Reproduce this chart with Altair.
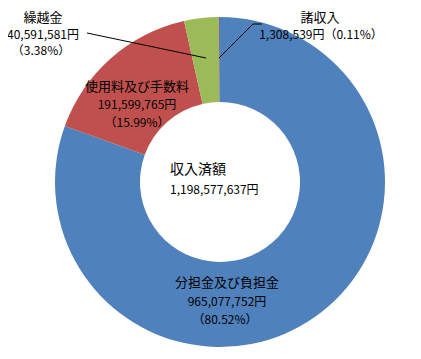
import altair as alt
import pandas as pd

categories = ["分担金及び負担金", "使用料及び手数料", "繰越金", "諸収入"]
amounts = [965077752, 191599765, 40591581, 1308539]
percents = ["80.52%", "15.99%", "3.38%", "0.11%"]
colors = ["#4F81BD", "#C0504D", "#9BBB59", "#8064A2"]
total_title = "収入済額"
total_amount = 1198577637

df = pd.DataFrame({"category": categories, "amount": amounts, "idx": list(range(len(categories)))})

W, H = 405, 343
CX, CY = 212, 174
FONT = "Noto Sans CJK JP"

arcs = alt.Chart(df).mark_arc(outerRadius=165, innerRadius=80).encode(
    theta=alt.Theta("amount:Q", stack=True),
    order=alt.Order("idx:Q"),
    color=alt.Color("category:N", scale=alt.Scale(domain=categories, range=colors), legend=None),
    x=alt.value(CX), y=alt.value(CY),
)

def fmt(v):
    return f"{v:,}円"

def text_line(s, x, y, align="center", size=12):
    return alt.Chart(pd.DataFrame({"t": [s]})).mark_text(
        font=FONT, fontSize=size, align=align, baseline="middle", color="#000000"
    ).encode(text="t:N", x=alt.value(x), y=alt.value(y))

def rule(x1, y1, x2, y2):
    return alt.Chart(pd.DataFrame({"a": [0]})).mark_rule(color="#000000", strokeWidth=1).encode(
        x=alt.value(x1), y=alt.value(y1), x2=alt.value(x2), y2=alt.value(y2)
    )

o = 8
layers = [arcs]
# 繰越金
layers += [
    text_line(categories[2], 43 - o, 18 - o, size=13),
    text_line(fmt(amounts[2]), 43 - o, 35 - o),
    text_line(f"（{percents[2]}）", 41 - o, 51 - o),
    rule(87 - o, 33 - o, 206 - o, 58 - o),
]
# 使用料及び手数料
layers += [
    text_line(categories[1], 137 - o, 87 - o, size=13),
    text_line(fmt(amounts[1]), 137 - o, 105 - o),
    text_line(f"（{percents[1]}）", 137 - o, 123 - o),
]
# 諸収入
layers += [
    text_line(categories[3], 320 - o, 18 - o, size=13),
    text_line(fmt(amounts[3]) + f"（{percents[3]}）", 321 - o, 35 - o),
    rule(253 - o, 24 - o, 262 - o, 24 - o),
    rule(253 - o, 24 - o, 219 - o, 58 - o),
]
# 分担金及び負担金
layers += [
    text_line(categories[0], 227 - o, 283 - o, size=13),
    text_line(fmt(amounts[0]), 227 - o, 302 - o),
    text_line(f"（{percents[0]}）", 225 - o, 320 - o),
]
# center
layers += [
    text_line(total_title, 170 - o, 170 - o, align="left", size=14),
    text_line(fmt(total_amount), 170 - o, 190 - o, align="left"),
]

chart = alt.layer(*layers).properties(
    width=W, height=H, autosize=alt.AutoSizeParams(type="none"), padding=0
).configure_view(stroke=None)

chart.save("out.html", embed_options={"renderer": "svg", "actions": False})
